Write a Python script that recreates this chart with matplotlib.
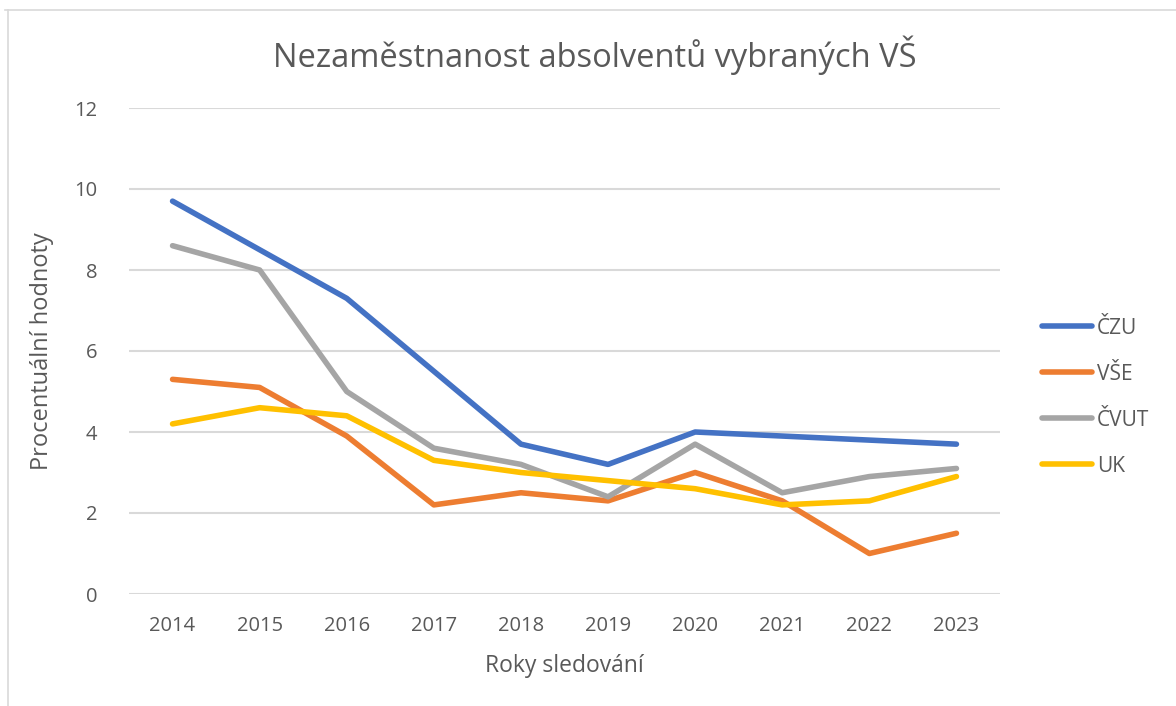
import matplotlib
matplotlib.use("Agg")
import matplotlib.pyplot as plt
from matplotlib.lines import Line2D

years = ["2014", "2015", "2016", "2017", "2018", "2019", "2020", "2021", "2022", "2023"]
czu = [9.7, 8.5, 7.3, 5.5, 3.7, 3.2, 4.0, 3.9, 3.8, 3.7]
vse = [5.3, 5.1, 3.9, 2.2, 2.5, 2.3, 3.0, 2.3, 1.0, 1.5]
cvut = [8.6, 8.0, 5.0, 3.6, 3.2, 2.4, 3.7, 2.5, 2.9, 3.1]
uk = [4.2, 4.6, 4.4, 3.3, 3.0, 2.8, 2.6, 2.2, 2.3, 2.9]
series_names = ["ČZU", "VŠE", "ČVUT", "UK"]
colors = ["#4472C4", "#ED7D31", "#A5A5A5", "#FFC000"]
yticks = [0, 2, 4, 6, 8, 10, 12]

plt.rcParams['font.family'] = ['Open Sans', 'DejaVu Sans']
txt = "#595959"

fig = plt.figure(figsize=(11.76, 7.06), dpi=100)
W, H = 1176, 706
ax = fig.add_axes([129 / W, 1 - 594 / H, (1000 - 129) / W, (594 - 108) / H])

x = list(range(len(years)))
for vals, name, c in zip([czu, vse, cvut, uk], series_names, colors):
    ax.plot(x, vals, color=c, lw=4.0, label=name, solid_capstyle='round', solid_joinstyle='round', zorder=3)

ax.set_xlim(-0.5, len(years) - 0.5)
ax.set_ylim(0, 12)
ax.set_yticks(yticks)
ax.set_xticks(x)
ax.set_xticklabels(years)
ax.grid(axis='y', color='#D9D9D9', lw=1.5, zorder=0)
ax.tick_params(axis='both', length=0, labelsize=14.5, colors=txt)
ax.tick_params(axis='x', pad=16)
ax.tick_params(axis='y', pad=23)
for s in ax.spines.values():
    s.set_visible(False)

ax.set_xlabel("Roky sledování", fontsize=16.5, color=txt, labelpad=13)
ax.set_ylabel("Procentuální hodnoty", fontsize=17, color=txt, labelpad=14)

fig.text(595 / W, 1 - 55 / H, "Nezaměstnanost absolventů vybraných VŠ", ha='center', va='center',
         fontsize=23.5, color=txt)

leg = fig.legend(loc='upper left', bbox_to_anchor=(1023 / W, 1 - 299 / H), frameon=False,
                 fontsize=15, labelcolor=txt, handlelength=2.4, handletextpad=0.25, labelspacing=1.2)
for h in leg.get_lines():
    h.set_linewidth(4.0)

fig.add_artist(Line2D([5 / W, 1], [1 - 10 / H, 1 - 10 / H], color='#D9D9D9', lw=1.2))
fig.add_artist(Line2D([8 / W, 8 / W], [1 - 10 / H, 0], color='#D9D9D9', lw=1.2))

fig.savefig("out.png", dpi=100, facecolor='white')
